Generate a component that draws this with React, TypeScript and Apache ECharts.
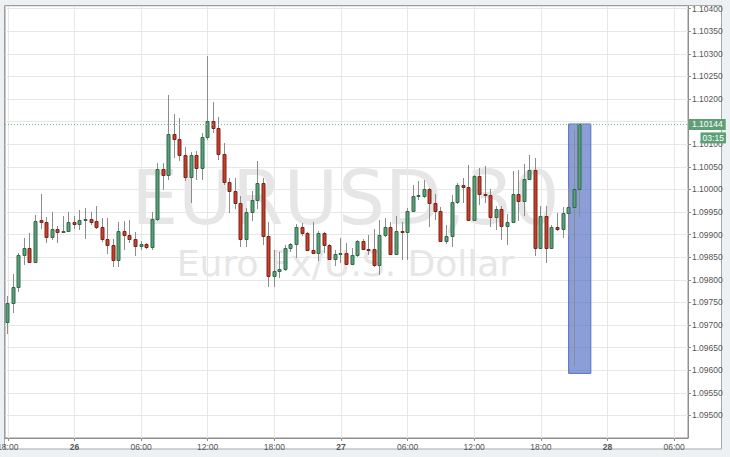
import React, { useEffect, useRef } from "react";
import * as echarts from "echarts";

// ---- time slots (30-minute bars) ----
const START_DAY = 25;
const START_MINUTES = 18 * 60;
const SLOT_MINUTES = 30;
const SLOT_COUNT = 123;
const TICK_EVERY = 12;

// ---- candle values (EURUSD, 30 min) ----
const OPEN = [
  1.09707, 1.09749, 1.09784, 1.09855, 1.0987, 1.0984, 1.09932, 1.09928, 1.09895, 1.09912,
  1.09906, 1.09907, 1.09928, 1.09923, 1.09932, 1.09934, 1.0993, 1.09917, 1.0989, 1.09878,
  1.09843, 1.09908, 1.099, 1.0989, 1.09875, 1.0988, 1.09872, 1.09934, 1.10045, 1.10031,
  1.10123, 1.10111, 1.10077, 1.10028, 1.10077, 1.10047, 1.10117, 1.10151, 1.10135, 1.10079,
  1.10017, 1.09996, 1.09971, 1.0989, 1.0995, 1.09977, 1.10015, 1.09896, 1.09808, 1.0982,
  1.09825, 1.0987, 1.09879, 1.09917, 1.09904, 1.09866, 1.0986, 1.09904, 1.09877, 1.09847,
  1.09857, 1.0986, 1.09835, 1.09854, 1.09885, 1.09868, 1.09868, 1.09832, 1.09899, 1.09918,
  1.09858, 1.09908, 1.09905, 1.09953, 1.09985, 1.09985, 1.1, 1.09971, 1.09953, 1.09887,
  1.09896, 1.09972, 1.10009, 1.10005, 1.09933, 1.10029, 1.09989, 1.09987, 1.09939, 1.09957,
  1.0992, 1.09928, 1.0999, 1.09974, 1.10024, 1.10044, 1.09871, 1.09941, 1.09871, 1.09918,
  1.09912, 1.09947, 1.09962, 1.10002,
];
const CLOSE = [
  1.09749, 1.09784, 1.09855, 1.0987, 1.0984, 1.09931, 1.09928, 1.09895, 1.09912, 1.09906,
  1.09909, 1.09928, 1.09923, 1.09933, 1.09934, 1.09929, 1.09918, 1.0989, 1.09878, 1.09843,
  1.09908, 1.099, 1.0989, 1.09875, 1.0988, 1.09872, 1.09934, 1.10045, 1.10031, 1.10123,
  1.10111, 1.10077, 1.10028, 1.10077, 1.10047, 1.10117, 1.10151, 1.10135, 1.10079, 1.10017,
  1.09996, 1.09971, 1.0989, 1.0995, 1.09977, 1.10015, 1.09896, 1.09808, 1.0982, 1.09825,
  1.0987, 1.09879, 1.09917, 1.09904, 1.09866, 1.0986, 1.09904, 1.09877, 1.09847, 1.09857,
  1.0986, 1.09835, 1.09854, 1.09885, 1.09868, 1.09866, 1.09832, 1.09899, 1.09918, 1.09858,
  1.09908, 1.09905, 1.09953, 1.09985, 1.09987, 1.1, 1.09971, 1.09953, 1.09887, 1.09896,
  1.09972, 1.10009, 1.10005, 1.09933, 1.10029, 1.09989, 1.09987, 1.09939, 1.09957, 1.0992,
  1.09928, 1.0999, 1.09974, 1.10024, 1.10044, 1.09871, 1.09941, 1.09871, 1.09917, 1.09912,
  1.09947, 1.09962, 1.10002, 1.10144,
];
const LOW = [
  1.09681, 1.09727, 1.09772, 1.09832, 1.09838, 1.09838, 1.09913, 1.09882, 1.09888, 1.09882,
  1.09904, 1.09905, 1.09913, 1.09911, 1.09891, 1.09922, 1.09912, 1.09883, 1.09858, 1.09828,
  1.09828, 1.09866, 1.09882, 1.09853, 1.09866, 1.09869, 1.09865, 1.0993, 1.09999, 1.10021,
  1.1007, 1.10064, 1.10018, 1.0997, 1.10021, 1.10021, 1.1011, 1.10125, 1.10066, 1.1001,
  1.09948, 1.09957, 1.09873, 1.09873, 1.0993, 1.09957, 1.09878, 1.09785, 1.09785, 1.09803,
  1.0982, 1.09862, 1.09848, 1.09896, 1.09863, 1.09858, 1.09841, 1.0986, 1.09845, 1.0983,
  1.09838, 1.09833, 1.09833, 1.0985, 1.09865, 1.09855, 1.09828, 1.09811, 1.09895, 1.09855,
  1.09855, 1.09843, 1.09845, 1.0995, 1.09977, 1.09982, 1.09918, 1.09932, 1.09885, 1.0988,
  1.09872, 1.09968, 1.0997, 1.0993, 1.0993, 1.09966, 1.0997, 1.09918, 1.09911, 1.09889,
  1.09878, 1.09925, 1.0993, 1.09942, 1.1002, 1.09853, 1.09868, 1.09838, 1.09868, 1.09907,
  1.09893, 1.09896, 1.0961, 1.0994,
];
const HIGH = [
  1.09765, 1.09813, 1.0986, 1.09893, 1.09904, 1.09944, 1.0999, 1.09938, 1.0995, 1.0992,
  1.09941, 1.0995, 1.09942, 1.09955, 1.09959, 1.0995, 1.09964, 1.09937, 1.09937, 1.0989,
  1.09929, 1.0993, 1.09932, 1.09906, 1.09885, 1.09882, 1.09951, 1.10059, 1.10059, 1.10208,
  1.10168, 1.10159, 1.10095, 1.10082, 1.10086, 1.10124, 1.10296, 1.10194, 1.10161, 1.10103,
  1.10025, 1.10025, 1.09985, 1.09959, 1.09996, 1.10062, 1.10025, 1.09929, 1.09866, 1.09862,
  1.09878, 1.09881, 1.09924, 1.09925, 1.09906, 1.09927, 1.09908, 1.09906, 1.0988, 1.09866,
  1.09892, 1.09881, 1.0987, 1.09889, 1.0989, 1.099, 1.09913, 1.09933, 1.09936, 1.09929,
  1.09942, 1.09928, 1.09959, 1.1001, 1.10018, 1.1002, 1.10004, 1.0999, 1.09961, 1.09922,
  1.09988, 1.10014, 1.10025, 1.10055, 1.10033, 1.10047, 1.10051, 1.1, 1.09963, 1.09963,
  1.09946, 1.1004, 1.10042, 1.10057, 1.10077, 1.1007, 1.09963, 1.09963, 1.09922, 1.09947,
  1.09961, 1.10004, 1.10132, 1.10144,
];

// ---- axis / annotation values ----
const Y_MIN = 1.0945;
const Y_MAX = 1.10406;
const Y_STEP = 0.0005;
const LAST_PRICE = 1.10144;
const COUNTDOWN = "03:15";
const BOX_FROM = 101;
const BOX_TO = 105;
const BOX_TOP = 1.10145;
const BOX_BOTTOM = 1.09593;
const TITLE = "EURUSD,30";
const SUBTITLE = "Euro Fx/U.S. Dollar";

const CATEGORIES = Array.from({ length: SLOT_COUNT }, (_, i) => {
  const m = START_MINUTES + i * SLOT_MINUTES;
  const day = START_DAY + Math.floor(m / 1440);
  const mm = m % 1440;
  const hh = String(Math.floor(mm / 60)).padStart(2, "0");
  const mi = String(mm % 60).padStart(2, "0");
  return `${day} ${hh}:${mi}`;
});

const FONT = "'Liberation Sans', Arial, sans-serif";
const UP_FILL = "#5c9e79";
const UP_STROKE = "#2f6a49";
const DOWN_FILL = "#c63f2d";
const DOWN_STROKE = "#7a2618";
const WICK = "#8c8c8c";
const PRICE_GREEN = "#5f9f78";

export default function App() {
  const ref = useRef<HTMLDivElement>(null);

  useEffect(() => {
    if (!ref.current) return;
    const chart = echarts.init(ref.current, undefined, { renderer: "svg" });
    const step = TICK_EVERY - 1;

    const data = OPEN.map((o, i) => [i, o, CLOSE[i], LOW[i], HIGH[i]]);

    const option: any = {
      animation: false,
      backgroundColor: "#eef1f4",
      grid: {
        left: 5,
        right: 42,
        top: 6,
        bottom: 19,
        show: true,
        borderColor: "#8f8f8f",
        borderWidth: 1,
        backgroundColor: "transparent",
        containLabel: false,
        outerBoundsMode: "none",
      },
      xAxis: {
        type: "category",
        data: CATEGORIES,
        boundaryGap: true,
        axisLine: { show: true, lineStyle: { color: "#8f8f8f", width: 1 } },
        axisTick: {
          show: true,
          alignWithLabel: true,
          interval: step,
          length: 3,
          lineStyle: { color: "#8f8f8f" },
        },
        axisLabel: {
          interval: step,
          margin: 4,
          fontSize: 8.5,
          fontFamily: FONT,
          color: "#555",
          hideOverlap: false,
          formatter: (val: string) => {
            const [d, t] = val.split(" ");
            return t === "00:00" ? `{day|${d}}` : t;
          },
          rich: {
            day: { fontWeight: "bold", fontSize: 8.5, fontFamily: FONT, color: "#555" },
          },
        },
        splitLine: {
          show: true,
          interval: step,
          alignWithLabel: true,
          lineStyle: { color: "#e7e7e7", width: 1 },
        },
      },
      yAxis: {
        type: "value",
        position: "right",
        min: Y_MIN,
        max: Y_MAX,
        interval: Y_STEP,
        axisLine: { show: true, lineStyle: { color: "#8f8f8f", width: 1 } },
        axisTick: { show: true, length: 3, inside: false, lineStyle: { color: "#8f8f8f" } },
        axisLabel: {
          margin: 4,
          fontSize: 8.5,
          fontFamily: FONT,
          color: "#555",
          showMinLabel: false,
          showMaxLabel: false,
          formatter: (v: number) => v.toFixed(5),
        },
        splitLine: { show: true, lineStyle: { color: "#e7e7e7", width: 1 } },
      },
      series: [
        {
          type: "custom",
          name: "EURUSD",
          data,
          encode: { x: 0, y: [1, 2, 3, 4] },
          clip: true,
          z: 3,
          renderItem: (params: any, api: any) => {
            const i = api.value(0);
            const o = api.value(1);
            const c = api.value(2);
            const l = api.value(3);
            const h = api.value(4);
            const pO = api.coord([i, o]);
            const pC = api.coord([i, c]);
            const pL = api.coord([i, l]);
            const pH = api.coord([i, h]);
            const x = Math.floor(pO[0]) + 0.5;
            const up = c >= o;
            let top = Math.round(Math.min(pO[1], pC[1])) + 0.5;
            let bottom = Math.round(Math.max(pO[1], pC[1])) + 0.5;
            if (bottom - top < 1) bottom = top + 1;
            return {
              type: "group",
              children: [
                {
                  type: "line",
                  shape: { x1: x, y1: Math.round(pH[1]), x2: x, y2: Math.round(pL[1]) },
                  style: { stroke: WICK, lineWidth: 1 },
                },
                {
                  type: "rect",
                  shape: { x: x - 1.5, y: top, width: 3, height: bottom - top },
                  style: {
                    fill: up ? UP_FILL : DOWN_FILL,
                    stroke: up ? UP_STROKE : DOWN_STROKE,
                    lineWidth: 1,
                  },
                },
              ],
            };
          },
          markArea: {
            silent: true,
            z: 1,
            itemStyle: {
              color: "rgba(84,112,198,0.68)",
              borderColor: "#5470c6",
              borderWidth: 1,
            },
            label: { show: false },
            data: [[{ coord: [BOX_FROM, BOX_TOP] }, { coord: [BOX_TO, BOX_BOTTOM] }]],
          },
        },
        {
          type: "line",
          name: "last",
          data: [],
          silent: true,
          markLine: {
            silent: true,
            precision: 5,
            symbol: ["none", "none"],
            lineStyle: { color: "#6cbf8e", type: [1, 2], width: 1, opacity: 1 },
            label: {
              show: true,
              position: "end",
              distance: 1,
              formatter: LAST_PRICE.toFixed(5),
              backgroundColor: PRICE_GREEN,
              color: "#fff",
              fontSize: 8.5,
              fontFamily: FONT,
              lineHeight: 8,
              padding: [1.5, 3, 1.5, 3],
            },
            emphasis: { disabled: true },
            data: [{ yAxis: LAST_PRICE }],
          },
        },
      ],
    };

    chart.setOption(option);

    const yPrice = chart.convertToPixel({ yAxisIndex: 0 }, LAST_PRICE) as number;

    chart.setOption({
      graphic: [
        {
          type: "rect",
          z: -10,
          silent: true,
          shape: { x: 4.5, y: 5.5, width: 717, height: 443.5 },
          style: { fill: "#ffffff", stroke: "#a9a9a9", lineWidth: 1 },
        },
        {
          type: "text",
          z: -5,
          silent: true,
          x: 345.5,
          y: 197.5,
          style: {
            text: TITLE,
            fontSize: 74,
            fontFamily: "'DejaVu Sans', sans-serif",
            fill: "#e6e6e6",
            align: "center",
            verticalAlign: "middle",
          },
        },
        {
          type: "text",
          z: -5,
          silent: true,
          x: 345.5,
          y: 263.5,
          style: {
            text: SUBTITLE,
            fontSize: 36,
            fontFamily: "'DejaVu Sans', sans-serif",
            fill: "#e6e6e6",
            align: "center",
            verticalAlign: "middle",
          },
        },
        {
          type: "rect",
          z: 20,
          silent: true,
          shape: { x: 700.5, y: yPrice + 8, width: 25.5, height: 11 },
          style: { fill: PRICE_GREEN },
        },
        {
          type: "text",
          z: 21,
          silent: true,
          x: 713.25,
          y: yPrice + 13.5,
          style: {
            text: COUNTDOWN,
            fontSize: 8.5,
            fontFamily: FONT,
            fill: "#ffffff",
            align: "center",
            verticalAlign: "middle",
          },
        },
      ],
    });

    return () => {
      chart.dispose();
    };
  }, []);

  return (
    <div
      ref={ref}
      style={{ position: "fixed", left: 0, top: 0, width: 730, height: 457 }}
    />
  );
}
